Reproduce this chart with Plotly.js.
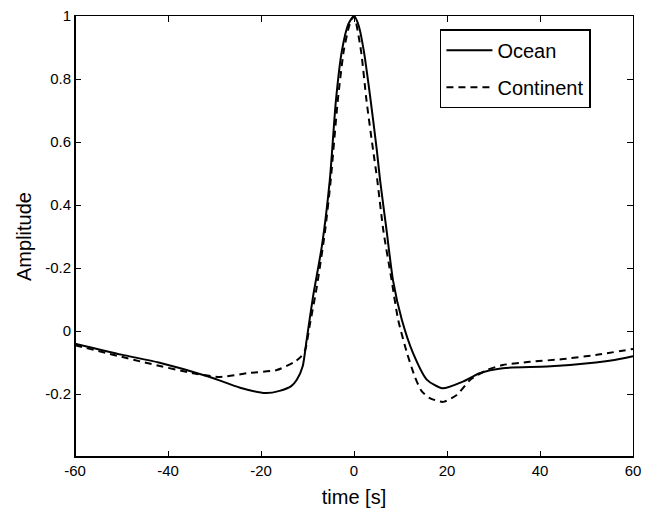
<!DOCTYPE html>
<html>
<head>
<meta charset="utf-8">
<script src="https://cdn.plot.ly/plotly-3.0.1.min.js"></script>
<style>html,body{margin:0;padding:0;background:#fff;}#chart{width:662px;height:508px;}</style>
</head>
<body>
<div id="chart"></div>
<script>
// Ocean (solid)
var oceanT = [-60,-50,-42,-31,-24.5,-19,-16,-13.5,-12.3,-11,-10.2,-8.8,-6.9,-5.2,-3.9,-2.6,-1.2,0,1,2.1,3.6,4.9,5.6,7.0,8.4,10.3,12.7,15.7,19,23.5,27,32,41.5,52,56,60];
var oceanY = [-0.04,-0.075,-0.10,-0.146,-0.18,-0.197,-0.19,-0.175,-0.155,-0.11,-0.03,0.11,0.27,0.48,0.73,0.89,0.975,1.0,0.97,0.89,0.73,0.575,0.48,0.32,0.16,0.035,-0.07,-0.155,-0.182,-0.16,-0.134,-0.118,-0.113,-0.1,-0.092,-0.08];
// Continent (dashed)
var contT = [-60,-45,-34.6,-28.8,-23,-16.6,-13,-11.5,-10.5,-9.5,-8,-6.2,-5.0,-3.5,-2.2,-1,0,1.5,2.7,4.1,5,6.3,8.1,9.5,11.4,13.1,14.5,16.3,19.2,22.1,25,28.6,32,37.8,45,52,60];
var contY = [-0.045,-0.10,-0.134,-0.146,-0.134,-0.124,-0.10,-0.083,-0.06,0.02,0.14,0.32,0.48,0.73,0.89,0.97,1.0,0.89,0.73,0.575,0.48,0.32,0.16,0.035,-0.07,-0.146,-0.19,-0.213,-0.225,-0.203,-0.155,-0.124,-0.108,-0.098,-0.089,-0.076,-0.057];
var seriesNames = ['Ocean', 'Continent'];
var xTicks = [-60,-40,-20,0,20,40,60];
var yTickVals = [-0.2,0,0.2,0.4,0.6,0.8,1];
var yTickText = ['-0.2','0','-0.2','0.4','0.6','0.8','1'];

var font = 'Liberation Sans, Arial, Helvetica, sans-serif';
var traces = [
  {x: oceanT, y: oceanY, name: seriesNames[0], mode: 'lines', legendgroup: 'a',
   line: {color: '#000', width: 2, shape: 'spline', smoothing: 0.6}},
  {x: contT, y: contY, name: seriesNames[1], mode: 'lines', legendgroup: 'b',
   line: {color: '#000', width: 2, dash: '7px,5px', shape: 'spline', smoothing: 0.6}}
];
var layout = {
  width: 662, height: 508,
  margin: {l: 75, r: 29, t: 16, b: 51},
  paper_bgcolor: '#fff', plot_bgcolor: '#fff',
  font: {family: font, color: '#000', size: 15},
  showlegend: true,
  legend: {x: 0.654, y: 0.97, xanchor: 'left', yanchor: 'top',
    bordercolor: '#000', borderwidth: 1.5, bgcolor: '#fff', itemwidth: 46,
    font: {family: font, size: 20, color: '#000'}, tracegroupgap: 8},
  xaxis: {range: [-60, 60], tickvals: xTicks, ticktext: xTicks.map(String),
    ticks: 'inside', ticklen: 6, tickcolor: '#000', tickwidth: 1,
    showline: true, linecolor: '#000', linewidth: 1, mirror: 'ticks',
    showgrid: false, zeroline: false,
    tickfont: {family: font, size: 15, color: '#000'},
    title: {text: 'time [s]', font: {family: font, size: 20, color: '#000'}, standoff: 13}},
  yaxis: {range: [-0.4, 1], tickvals: yTickVals, ticktext: yTickText,
    ticks: 'inside', ticklen: 6, tickcolor: '#000', tickwidth: 1,
    showline: true, linecolor: '#000', linewidth: 1, mirror: 'ticks',
    showgrid: false, zeroline: false,
    tickfont: {family: font, size: 15, color: '#000'},
    title: {text: 'Amplitude', font: {family: font, size: 20, color: '#000'}, standoff: 8}},
  shapes: [
    {type: 'line', xref: 'paper', yref: 'paper', x0: 0, x1: 0, y0: 0, y1: 1, line: {color: '#000', width: 2}},
    {type: 'line', xref: 'paper', yref: 'paper', x0: 0, x1: 1, y0: 0, y1: 0, line: {color: '#000', width: 2}}
  ]
};
Plotly.newPlot('chart', traces, layout, {displayModeBar: false, staticPlot: true});
</script>
</body>
</html>
